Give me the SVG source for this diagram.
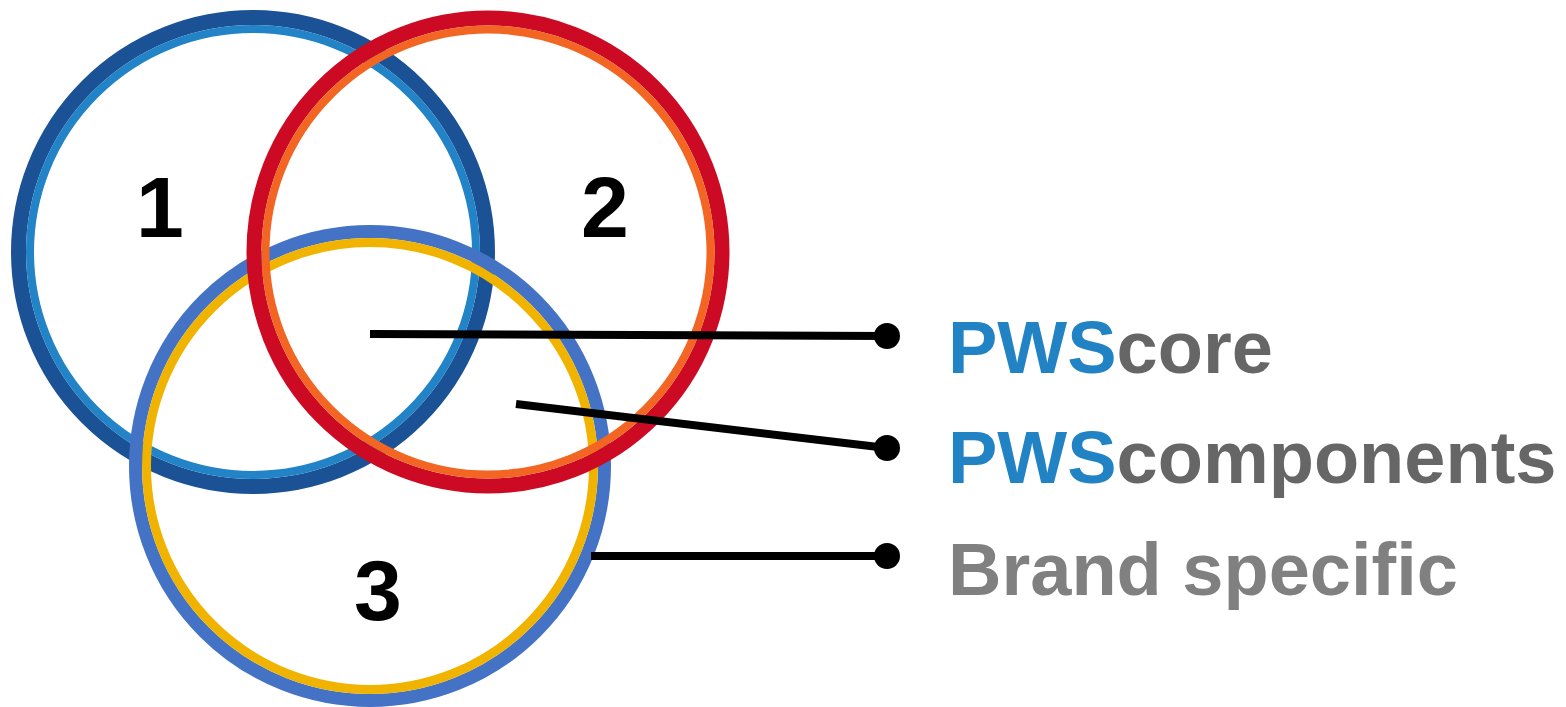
<svg xmlns="http://www.w3.org/2000/svg" width="1566" height="707" viewBox="0 0 1566 707">
<style>
.ring{fill:none}
.num{font-family:"Liberation Sans",Arial,sans-serif;font-weight:bold;font-size:86px;fill:#000;text-anchor:middle}
.lbl{font-family:"Liberation Sans",Arial,sans-serif;font-weight:bold;font-size:74px}
.blue{fill:#2183c4}
.dgray{fill:#666666}
.lgray{fill:#808080}
.conn{stroke:#000;stroke-width:8;fill:none}
.dot{fill:#000}
</style>
<rect width="1566" height="707" fill="#fff"/>
<g id="circle1">
<circle class="ring" cx="253" cy="252" r="234.5" stroke="#1b5296" stroke-width="15"/>
<circle class="ring" cx="253" cy="252" r="223" stroke="#2283c6" stroke-width="8"/>
<text class="num" x="160" y="237">1</text>
</g>
<g id="circle3">
<circle class="ring" cx="370" cy="466" r="234.5" stroke="#4472c4" stroke-width="13"/>
<circle class="ring" cx="370" cy="466" r="223.5" stroke="#f0b400" stroke-width="9"/>
<text class="num" x="378" y="620">3</text>
</g>
<g id="circle2">
<circle class="ring" cx="488" cy="252" r="234" stroke="#cc0a24" stroke-width="15"/>
<circle class="ring" cx="488" cy="252" r="222.5" stroke="#f26522" stroke-width="8"/>
<text class="num" x="605" y="237">2</text>
</g>
<g id="connectors">
<line class="conn" x1="370" y1="334" x2="887" y2="336"/>
<circle class="dot" cx="887" cy="336" r="13"/>
<line class="conn" x1="516" y1="404" x2="887" y2="448"/>
<circle class="dot" cx="887" cy="448" r="13"/>
<line class="conn" x1="591" y1="556" x2="887" y2="556"/>
<circle class="dot" cx="887" cy="556" r="13"/>
</g>
<g id="label-core">
<text class="lbl" x="948" y="373"><tspan class="blue">PWS</tspan><tspan class="dgray">core</tspan></text>
</g>
<g id="label-components">
<text class="lbl" x="948" y="483"><tspan class="blue">PWS</tspan><tspan class="dgray">components</tspan></text>
</g>
<g id="label-brand">
<text class="lbl lgray" x="948" y="595">Brand specific</text>
</g>
</svg>
